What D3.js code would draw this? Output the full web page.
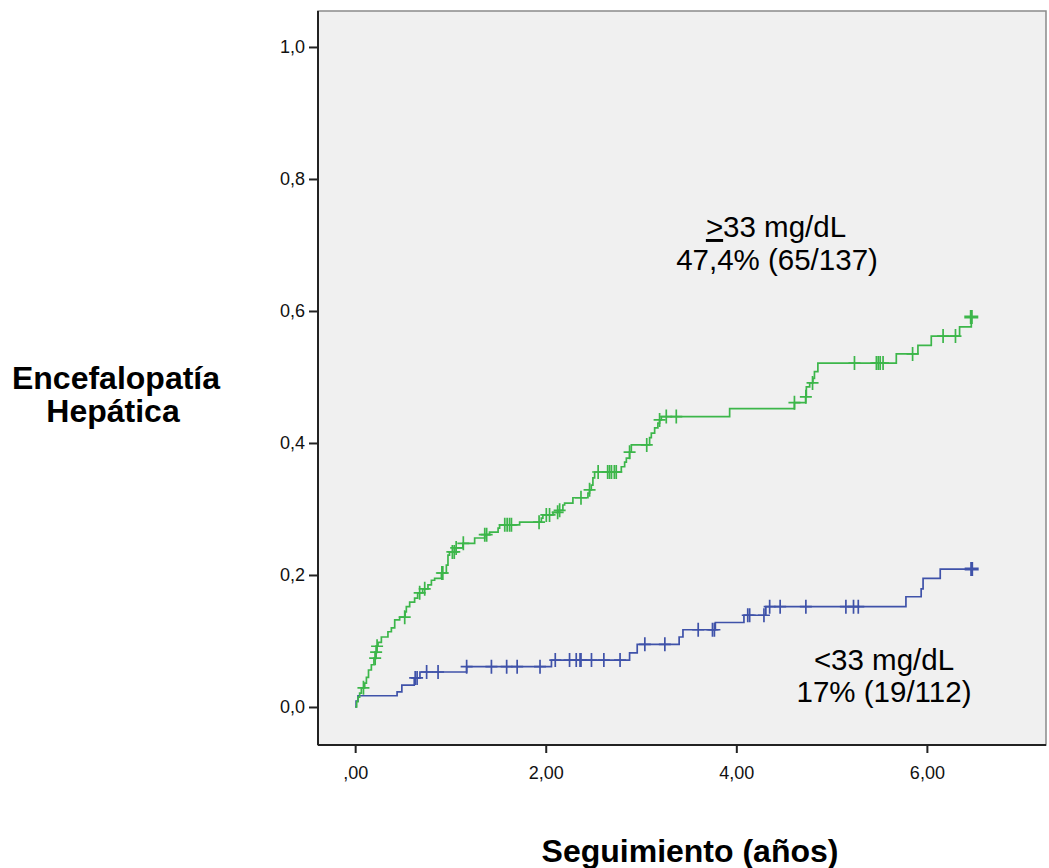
<!DOCTYPE html>
<html>
<head>
<meta charset="utf-8">
<script src="https://cdn.jsdelivr.net/npm/d3@7"></script>
<style>
  html, body { margin: 0; padding: 0; background: #ffffff; }
  svg { display: block; }
</style>
</head>
<body>
<svg id="chart" width="1049" height="868"></svg>
<script>
// Cumulative incidence of hepatic encephalopathy by group (Kaplan-Meier style step curves)

// Group >=33 mg/dL: event times (years) and cumulative proportion after each event
const highTimes = [0.016, 0.03, 0.047, 0.065, 0.10, 0.118, 0.14, 0.17, 0.197, 0.212, 0.226, 0.24, 0.275, 0.344, 0.38, 0.415, 0.467, 0.525, 0.537, 0.572, 0.624, 0.656, 0.708, 0.764, 0.80, 0.834, 0.905, 0.957, 0.974, 0.99, 1.044, 1.13, 1.254, 1.36, 1.41, 1.50, 1.516, 1.726, 1.954, 1.97, 2.076, 2.128, 2.18, 2.198, 2.285, 2.443, 2.46, 2.478, 2.495, 2.513, 2.793, 2.828, 2.846, 2.88, 2.898, 3.09, 3.108, 3.143, 3.177, 3.195, 3.213, 3.93, 4.61, 4.727, 4.735, 4.77, 4.804, 4.82, 4.856, 5.679, 5.906, 6.046, 6.343, 6.466];
const highCum = [0.008, 0.015, 0.021, 0.029, 0.036, 0.045, 0.056, 0.064, 0.074, 0.083, 0.092, 0.098, 0.106, 0.114, 0.120, 0.132, 0.136, 0.144, 0.152, 0.159, 0.165, 0.173, 0.179, 0.185, 0.192, 0.195, 0.203, 0.215, 0.230, 0.235, 0.241, 0.248, 0.256, 0.261, 0.265, 0.271, 0.276, 0.280, 0.286, 0.291, 0.295, 0.298, 0.306, 0.309, 0.317, 0.324, 0.329, 0.336, 0.347, 0.356, 0.364, 0.371, 0.377, 0.386, 0.397, 0.408, 0.415, 0.423, 0.430, 0.435, 0.440, 0.452, 0.461, 0.470, 0.485, 0.491, 0.498, 0.508, 0.521, 0.535, 0.548, 0.562, 0.576, 0.591];
const highCensored = [0.087, 0.21, 0.22, 0.23, 0.52, 0.677, 0.73, 0.91, 0.92, 1.02, 1.04, 1.06, 1.135, 1.36, 1.38, 1.57, 1.595, 1.62, 1.64, 1.93, 2.006, 2.04, 2.125, 2.146, 2.37, 2.46, 2.55, 2.65, 2.67, 2.69, 2.72, 2.74, 2.88, 3.06, 3.195, 3.265, 3.37, 4.61, 4.73, 4.80, 5.24, 5.47, 5.49, 5.51, 5.54, 5.85, 6.17, 6.30];
const highLast = 6.466;

// Group <33 mg/dL
const lowTimes = [0.01, 0.03, 0.44, 0.49, 0.62, 0.68, 1.17, 2.06, 2.88, 2.96, 3.40, 3.44, 3.78, 4.08, 4.31, 5.78, 5.94, 5.96, 6.14];
const lowCum = [0.009, 0.017, 0.023, 0.033, 0.044, 0.053, 0.061, 0.071, 0.082, 0.095, 0.106, 0.117, 0.128, 0.139, 0.152, 0.167, 0.179, 0.195, 0.209];
const lowCensored = [0.63, 0.65, 0.75, 0.87, 1.17, 1.43, 1.59, 1.70, 1.94, 2.10, 2.25, 2.32, 2.36, 2.37, 2.48, 2.61, 2.78, 3.04, 3.25, 3.60, 3.75, 3.77, 4.12, 4.14, 4.29, 4.35, 4.46, 4.73, 5.15, 5.23, 5.28];
const lowLast = 6.47;

// Axis ticks and labels
const yTicks = [0, 0.2, 0.4, 0.6, 0.8, 1.0];
const yTickLabels = ["0,0", "0,2", "0,4", "0,6", "0,8", "1,0"];
const xTicks = [0, 2, 4, 6];
const xTickLabels = [",00", "2,00", "4,00", "6,00"];

const svg = d3.select("#chart");
const plotL = 318, plotR = 1046, plotT = 11, plotB = 745;

const x = d3.scaleLinear().domain([-0.39, 7.25]).range([plotL, plotR]);
const y = d3.scaleLinear().domain([-0.0576, 1.0545]).range([plotB, plotT]);

// plot panel
svg.append("rect")
  .attr("x", plotL).attr("y", plotT)
  .attr("width", plotR - plotL).attr("height", plotB - plotT)
  .attr("fill", "#f0f0f0")
  .attr("stroke", "#8a8a8a").attr("stroke-width", 1.5);

// axes
const yAxis = d3.axisLeft(y)
  .tickValues(yTicks)
  .tickFormat((d, i) => yTickLabels[i])
  .tickSize(9).tickPadding(4);
const xAxis = d3.axisBottom(x)
  .tickValues(xTicks)
  .tickFormat((d, i) => xTickLabels[i])
  .tickSize(8).tickPadding(13);

const gy = svg.append("g").attr("transform", `translate(${plotL},0)`).call(yAxis);
const gx = svg.append("g").attr("transform", `translate(0,${plotB})`).call(xAxis);
[gx, gy].forEach(g => {
  g.select(".domain").attr("stroke", "#222").attr("stroke-width", 2);
  g.selectAll(".tick line").attr("stroke", "#222").attr("stroke-width", 2);
  g.selectAll(".tick text")
    .attr("fill", "#111")
    .style("font-family", "'Liberation Sans', Arial, sans-serif")
    .style("font-size", "18px");
});
gy.select(".domain").attr("d", `M0,${plotB}V${plotT}`);
gx.select(".domain").attr("d", `M${plotL},0H${plotR}`);

// step curve helpers
function stepPoints(times, cum, last) {
  const pts = [[0, 0]];
  times.forEach((t, i) => pts.push([t, cum[i]]));
  pts.push([last, cum[cum.length - 1]]);
  return pts;
}
function valueAt(times, cum, t) {
  let v = 0;
  for (let i = 0; i < times.length; i++) if (times[i] <= t) v = cum[i];
  return v;
}
const line = d3.line().x(d => x(d[0])).y(d => y(d[1])).curve(d3.curveStepAfter);

function drawGroup(times, cum, censored, last, color) {
  const g = svg.append("g");
  g.append("path")
    .datum(stepPoints(times, cum, last))
    .attr("d", line)
    .attr("fill", "none")
    .attr("stroke", color)
    .attr("stroke-width", 1.7);
  g.selectAll("path.cens")
    .data(censored)
    .join("path")
    .attr("class", "cens")
    .attr("d", t => {
      const cx = x(t), cy = y(valueAt(times, cum, t));
      return `M${cx - 6},${cy}h12M${cx},${cy - 7}v14`;
    })
    .attr("stroke", color).attr("stroke-width", 1.7).attr("fill", "none");
  // final censored observation
  const lx = x(last), ly = y(cum[cum.length - 1]);
  g.append("path")
    .attr("d", `M${lx - 7},${ly}h14M${lx},${ly - 7}v14`)
    .attr("stroke", color).attr("stroke-width", 3).attr("fill", "none");
}

drawGroup(lowTimes, lowCum, lowCensored, lowLast, "#3f52a9");
drawGroup(highTimes, highCum, highCensored, highLast, "#3cb64a");

// group annotations
const annFont = "'Liberation Sans', Arial, sans-serif";
const ann = svg.append("g")
  .style("font-family", annFont).style("font-size", "29.5px").attr("fill", "#000")
  .attr("text-anchor", "middle");
const t1 = ann.append("text").attr("x", 776).attr("y", 237);
t1.append("tspan").style("text-decoration", "underline").text(">");
t1.append("tspan").text("33 mg/dL");
ann.append("text").attr("x", 777).attr("y", 270).text("47,4% (65/137)");
ann.append("text").attr("x", 884).attr("y", 670).text("<33 mg/dL");
ann.append("text").attr("x", 884).attr("y", 702).text("17% (19/112)");

// axis titles
const titles = svg.append("g")
  .style("font-family", "'Liberation Sans', Arial, sans-serif")
  .style("font-weight", "bold").style("font-size", "32px")
  .attr("fill", "#000").attr("text-anchor", "middle");
titles.append("text").attr("x", 116).attr("y", 389).text("Encefalopatía");
titles.append("text").attr("x", 113).attr("y", 422).text("Hepática");
titles.append("text").attr("x", 690).attr("y", 862).text("Seguimiento (años)");
</script>
</body>
</html>
